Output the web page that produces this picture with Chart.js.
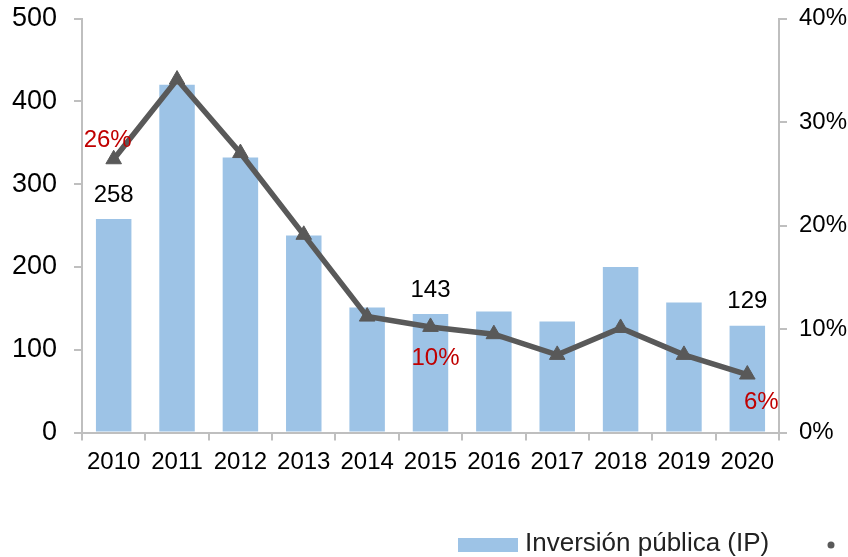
<!DOCTYPE html>
<html>
<head>
<meta charset="utf-8">
<script src="https://cdn.jsdelivr.net/npm/chart.js@4/dist/chart.umd.min.js"></script>
<style>
  html, body { margin: 0; padding: 0; background: #fff; }
  #wrap { width: 848px; height: 557px; }
</style>
</head>
<body>
<div id="wrap"><canvas id="chart" width="848" height="557"></canvas></div>
<script>
// datos
var years = ["2010","2011","2012","2013","2014","2015","2016","2017","2018","2019","2020"];
var inversion = [258, 420, 332, 238, 151, 143, 146, 134, 200, 157, 129];
var porcentaje = [26.4, 34.1, 27.0, 19.1, 11.2, 10.2, 9.5, 7.5, 10.1, 7.5, 5.6];
var leftTicks = [0, 100, 200, 300, 400, 500];
var rightTicks = [0, 10, 20, 30, 40];
var labelIdx = [0, 5, 10];

var FONT = "'Liberation Sans', Arial, sans-serif";
var AXIS = "#bfbfbf";

// etiquetas de datos y leyenda
var extras = {
    id: "extras",
    afterDatasetsDraw: function(chart){
        var ctx = chart.ctx;
        var x = chart.scales.x, y = chart.scales.y, y2 = chart.scales.y2;
        var pctOff = [[-6, -19], [5, 31], [14, 28]];
        ctx.save();
        ctx.font = "24px " + FONT;
        ctx.textAlign = "center";
        ctx.textBaseline = "middle";
        labelIdx.forEach(function(i, k){
            var cx = x.getPixelForValue(i);
            ctx.fillStyle = "#000";
            ctx.fillText(String(inversion[i]), cx, y.getPixelForValue(inversion[i]) - 24);
            ctx.fillStyle = "#c00000";
            ctx.fillText(Math.round(porcentaje[i]) + "%", cx + pctOff[k][0], y2.getPixelForValue(porcentaje[i]) + pctOff[k][1]);
        });
        ctx.restore();
    },
    afterDraw: function(chart){
        var ctx = chart.ctx;
        var bar = chart.data.datasets[0], line = chart.data.datasets[1];
        ctx.save();
        ctx.fillStyle = bar.backgroundColor;
        ctx.fillRect(458, 538, 60, 14);
        ctx.fillStyle = "#222";
        ctx.font = "26px " + FONT;
        ctx.textBaseline = "middle";
        ctx.fillText(bar.label, 525, 544);
        ctx.fillStyle = line.borderColor;
        ctx.beginPath();
        ctx.arc(831, 545, 3.5, 0, Math.PI * 2);
        ctx.fill();
        ctx.fillText(line.label, 860, 544);
        ctx.restore();
    }
};

function fitY(width){
    return function(s){ s.width = width; s.paddingTop = 0; s.paddingBottom = 0; };
}

new Chart(document.getElementById("chart").getContext("2d"), {
    data: {
        labels: years,
        datasets: [
            {
                type: "bar",
                label: "Inversión pública (IP)",
                data: inversion,
                yAxisID: "y",
                backgroundColor: "#9dc3e6",
                barPercentage: 0.56,
                categoryPercentage: 1,
                order: 1
            },
            {
                type: "line",
                label: "IP (% del total)",
                data: porcentaje,
                yAxisID: "y2",
                borderColor: "#595959",
                backgroundColor: "#595959",
                borderWidth: 5.5,
                tension: 0,
                pointStyle: "triangle",
                pointRadius: 9,
                pointBorderWidth: 1,
                order: 0
            }
        ]
    },
    options: {
        responsive: false,
        animation: false,
        layout: { padding: { top: 18.5, left: 0, right: 0, bottom: 0 } },
        plugins: { legend: { display: false }, tooltip: { enabled: false } },
        scales: {
            x: {
                afterFit: function(s){ s.height = 124.5; s.paddingLeft = 0; s.paddingRight = 0; },
                border: { color: AXIS, width: 2 },
                grid: { drawOnChartArea: false, drawTicks: true, tickLength: 8, color: AXIS, lineWidth: 2 },
                ticks: { color: "#000", font: { family: FONT, size: 24 }, padding: 7, maxRotation: 0 }
            },
            y: {
                position: "left",
                min: 0, max: 500,
                afterFit: fitY(82),
                afterBuildTicks: function(s){ s.ticks = leftTicks.map(function(v){ return { value: v }; }); },
                border: { color: AXIS, width: 2 },
                grid: { drawOnChartArea: false, drawTicks: true, tickLength: 8, color: AXIS, lineWidth: 2 },
                ticks: { color: "#000", font: { family: FONT, size: 27 }, padding: 17 }
            },
            y2: {
                position: "right",
                min: 0, max: 40,
                afterFit: fitY(69),
                afterBuildTicks: function(s){ s.ticks = rightTicks.map(function(v){ return { value: v }; }); },
                border: { color: AXIS, width: 2 },
                grid: { drawOnChartArea: false, drawTicks: true, tickLength: 8, color: AXIS, lineWidth: 2 },
                ticks: { color: "#000", font: { family: FONT, size: 24 }, padding: 12,
                    callback: function(v){ return v + "%"; } }
            }
        }
    },
    plugins: [extras]
});
</script>
</body>
</html>
